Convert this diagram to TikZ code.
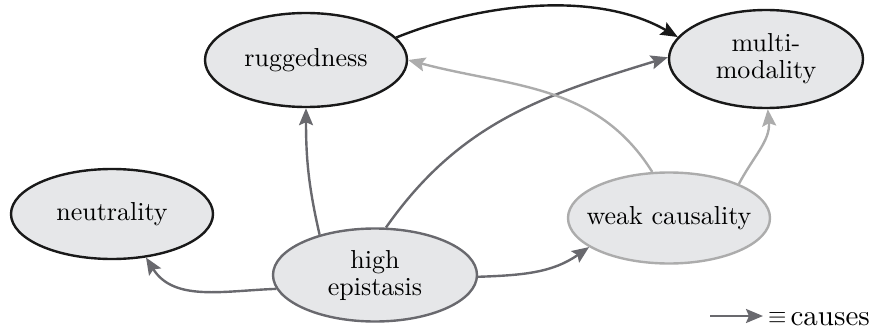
\documentclass[tikz,border=0pt]{standalone}
\usepackage{fontspec}
\setmainfont{lmroman10-regular.otf}
\usetikzlibrary{shapes.geometric,arrows.meta}
\definecolor{fillg}{RGB}{230,231,233}
\definecolor{darkg}{RGB}{105,105,110}
\definecolor{lightg}{RGB}{172,172,172}
\definecolor{blk}{RGB}{25,25,25}
\tikzset{
  concept/.style={ellipse, draw=blk, fill=fillg, line width=2.4pt,
    inner xsep=-40pt, inner ysep=-30pt, align=center,
    font=\fontsize{26}{27}\selectfont},
  arr/.style={-{Stealth[length=17pt,width=14pt,inset=3pt]}, line width=2.4pt},
}
\begin{document}
\begin{tikzpicture}[x=1pt,y=1pt]
\useasboundingbox (0,0) rectangle (873,330);
\node[concept, minimum width=202pt, minimum height=94pt] (rug) at (306,270) {ruggedness};
\node[concept, minimum width=194pt, minimum height=98pt] (mm) at (766,271) {multi-\\modality};
\node[concept, minimum width=202pt, minimum height=90pt] (neu) at (112,116) {neutrality};
\node[concept, draw=darkg, minimum width=204pt, minimum height=93pt] (he) at (375,55) {high\\epistasis};
\node[concept, draw=lightg, minimum width=202pt, minimum height=91pt] (wc) at (669,112) {weak causality};

\draw[arr, blk] (rug.14) to[out=22,in=150,looseness=0.85] (mm.166);
\draw[arr, darkg] (he.144) to[out=103,in=-90] (rug.-90);
\draw[arr, darkg] (he.77) to[out=55,in=197] (mm.179);
\draw[arr, darkg] (he.188) to[out=182,in=-58] (neu.-52);
\draw[arr, darkg] (he.-1) to[out=2,in=215] (wc.200);
\draw[arr, lightg] (wc.110) to[out=122,in=-15] (rug.0);
\draw[arr, lightg] (wc.26) to[out=62,in=-85] (mm.-88);

\node[anchor=base east, inner sep=0pt, font=\fontsize{29}{30}\selectfont] (leg) at (870,5) {\raisebox{1.5pt}{\scalebox{0.95}{$\equiv$}}\hspace{4pt}causes};
\coordinate (ls) at (710,14);
\draw[arr, darkg, shorten >=5pt] (ls) -- (ls -| leg.west);
\end{tikzpicture}
\end{document}
